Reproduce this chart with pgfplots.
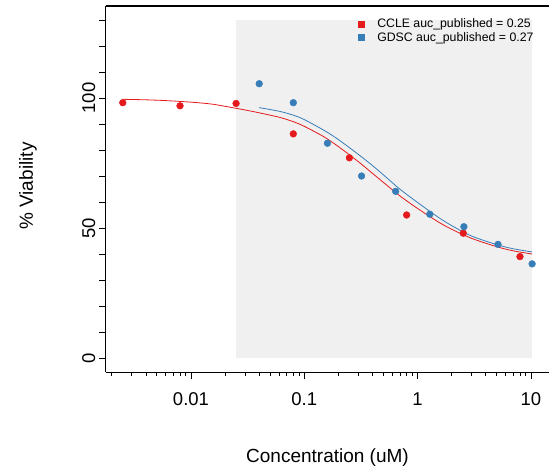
\documentclass[border=0pt]{standalone}
\usepackage{fontspec}
\setmainfont{Liberation Sans}
\usepackage{pgfplots}
\pgfplotsset{compat=1.18}
\definecolor{cclered}{HTML}{E41A1C}
\definecolor{gdscblue}{HTML}{377EB8}
\definecolor{bggray}{HTML}{F0F0F0}
\begin{document}
\begin{tikzpicture}
\begin{axis}[
  at={(0,0)}, anchor=south west,
  scale only axis, width=443bp, height=366bp,
  xmode=log, xmin=0.001778, xmax=14.43, ymin=-5.385, ymax=135.385,
  separate axis lines,
  axis x line*=box, axis y line*=left,
  every outer x axis line/.append style={black, line width=1bp},
  every outer y axis line/.append style={black, line width=1bp},
  tick pos=left, tick align=outside,
  every tick/.style={black, line width=0.8bp},
  major tick length=7bp, minor tick length=4bp,
  xtick={0.01,0.1,1,10}, xticklabels={0.01,0.1,1,10},
  minor xtick={0.002,0.003,0.004,0.005,0.006,0.007,0.008,0.009,0.02,0.03,0.04,0.05,0.06,0.07,0.08,0.09,0.2,0.3,0.4,0.5,0.6,0.7,0.8,0.9,2,3,4,5,6,7,8,9},
  ytick={0,10,20,30,40,50,60,70,80,90,100,110,120,130},
  yticklabels={0,{},{},{},{},50,{},{},{},{},100,{},{},{}},
  /pgf/number format/assume math mode=true,
  tick label style={font=\fontsize{18.5bp}{22bp}\selectfont},
  xticklabel style={anchor=base, yshift=-26bp},
  yticklabel style={xshift=-4bp, rotate=90, anchor=base},
  xlabel={Concentration (uM)},
  xlabel style={font=\fontsize{19bp}{22bp}\selectfont, at={(axis description cs:0.5,0)}, anchor=base, yshift=-90bp},
  ylabel={\% Viability},
  ylabel style={font=\fontsize{19bp}{22bp}\selectfont, at={(axis description cs:-0.1648,0.508)}, anchor=base},
  legend style={draw=none, fill=none, at={(axis description cs:0.569,0.971)}, anchor=north west,
    font=\fontsize{12.3bp}{14bp}\selectfont, inner sep=0pt, row sep=-1bp,
    /tikz/every odd column/.append style={column sep=11bp}},
  legend cell align=left,
]
\addplot[fill=bggray, draw=none, forget plot] coordinates {(0.025,0) (10.24,0) (10.24,130) (0.025,130)} -- cycle;
\addlegendimage{only marks, mark=square*, mark size=3bp, color=cclered}
\addlegendentry{CCLE auc\_published = 0.25}
\addlegendimage{only marks, mark=square*, mark size=3bp, color=gdscblue}
\addlegendentry{GDSC auc\_published = 0.27}
% fitted curves
\addplot[cclered, line width=0.8bp, smooth, forget plot] coordinates {
(0.0025,99.5) (0.004,99.3) (0.006,99.0) (0.01,98.4) (0.015,97.7) (0.02,96.8) (0.03,95.4) (0.04,94.3) (0.06,92.6) (0.08,90.9) (0.1,89.1) (0.15,85.0) (0.2,81.3) (0.3,75.5) (0.4,71.0) (0.5,67.5) (0.7,62.3) (1,57.5) (1.5,52.5) (2,49.5) (3,46.0) (5,42.8) (7,41.2) (10.24,40.0)};
\addplot[gdscblue, line width=0.8bp, smooth, forget plot] coordinates {
(0.04,96.3) (0.06,94.9) (0.08,93.4) (0.1,91.7) (0.15,87.5) (0.2,84.0) (0.3,78.3) (0.4,74.0) (0.5,70.4) (0.7,64.9) (1,59.8) (1.5,54.3) (2,50.9) (3,46.9) (5,43.6) (7,42.0) (10.24,40.8)};
% data points
\addplot[only marks, mark=*, mark size=3.4bp, color=cclered, forget plot] coordinates {
(0.0025,98.2) (0.008,97.0) (0.025,97.9) (0.08,86.2) (0.25,77.0) (0.8,55.0) (2.53,48.0) (8,39.0)};
\addplot[only marks, mark=*, mark size=3.4bp, color=gdscblue, forget plot] coordinates {
(0.04,105.5) (0.08,98.2) (0.16,82.6) (0.32,70.0) (0.64,64.1) (1.28,55.3) (2.56,50.5) (5.12,43.7) (10.24,36.2)};
\end{axis}
\draw[black, line width=1.2bp] (-0.5bp,366bp) -- (443bp,366bp);
\pgfresetboundingbox
\useasboundingbox (-106bp,-95bp) rectangle (443bp,372bp);
\end{tikzpicture}
\end{document}
